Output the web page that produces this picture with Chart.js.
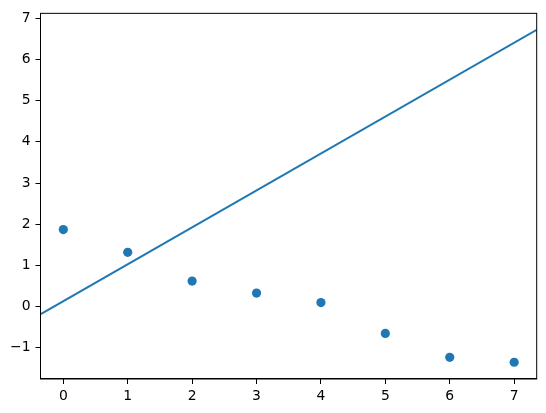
<!DOCTYPE html>
<html lang="en">
<head>
    <meta charset="UTF-8">
    <title>Scatter with fitted line</title>
    <script src="https://cdn.jsdelivr.net/npm/chart.js"></script>
    <style>
        html, body { margin: 0; padding: 0; background: #fff; }
        .chart-container { position: relative; width: 546px; height: 413px; }
    </style>
</head>
<body>
    <div class="chart-container">
        <canvas id="chart"></canvas>
    </div>

    <script>
        // data
        const xValues = [0, 1, 2, 3, 4, 5, 6, 7];
        const yValues = [1.87, 1.32, 0.62, 0.33, 0.10, -0.65, -1.23, -1.35];
        const lineX = [-0.35, 7.35];
        const lineY = [-0.18, 6.72];
        const xTicks = [0, 1, 2, 3, 4, 5, 6, 7];
        const yTicks = [-1, 0, 1, 2, 3, 4, 5, 6, 7];

        const blue = '#1f77b4';
        const tickFont = { family: 'DejaVu Sans', size: 13.9 };

        // box round the plot area, like matplotlib's spines
        const frame = {
            id: 'frame',
            afterDraw(chart) {
                const { ctx, chartArea: a } = chart;
                ctx.save();
                ctx.strokeStyle = '#000';
                ctx.lineWidth = 1;
                ctx.strokeRect(a.left, a.top, a.right - a.left, a.bottom - a.top);
                ctx.restore();
            }
        };

        new Chart(document.getElementById('chart').getContext('2d'), {
            type: 'scatter',
            data: {
                datasets: [
                    {
                        data: xValues.map((x, i) => ({ x: x, y: yValues[i] })),
                        backgroundColor: blue,
                        borderColor: blue,
                        pointRadius: 4.6,
                        pointHoverRadius: 4.6,
                        borderWidth: 0
                    },
                    {
                        data: lineX.map((x, i) => ({ x: x, y: lineY[i] })),
                        showLine: true,
                        borderColor: blue,
                        borderWidth: 2.1,
                        pointRadius: 0,
                        fill: false
                    }
                ]
            },
            options: {
                responsive: true,
                maintainAspectRatio: false,
                animation: false,
                events: [],
                layout: { padding: { top: 10, right: 9.3, left: 0, bottom: 0 } },
                plugins: { legend: { display: false }, tooltip: { enabled: false } },
                scales: {
                    x: {
                        type: 'linear',
                        min: -0.354,
                        max: 7.35,
                        afterBuildTicks: s => { s.ticks = xTicks.map(v => ({ value: v })); },
                        afterFit: s => { s.height = 34; },
                        grid: { drawOnChartArea: false, tickLength: 5, tickColor: '#000' },
                        border: { color: '#000', width: 1 },
                        ticks: { color: '#000', font: tickFont, padding: 4, maxRotation: 0 }
                    },
                    y: {
                        type: 'linear',
                        min: -1.756,
                        max: 7.12,
                        afterBuildTicks: s => { s.ticks = yTicks.map(v => ({ value: v })); },
                        afterFit: s => { s.width = 40.5; },
                        grid: { drawOnChartArea: false, tickLength: 5, tickColor: '#000' },
                        border: { color: '#000', width: 1 },
                        ticks: {
                            color: '#000',
                            font: tickFont,
                            padding: 5,
                            callback: v => (v < 0 ? '\u2212' + Math.abs(v) : String(v))
                        }
                    }
                }
            },
            plugins: [frame]
        });
    </script>
</body>
</html>
